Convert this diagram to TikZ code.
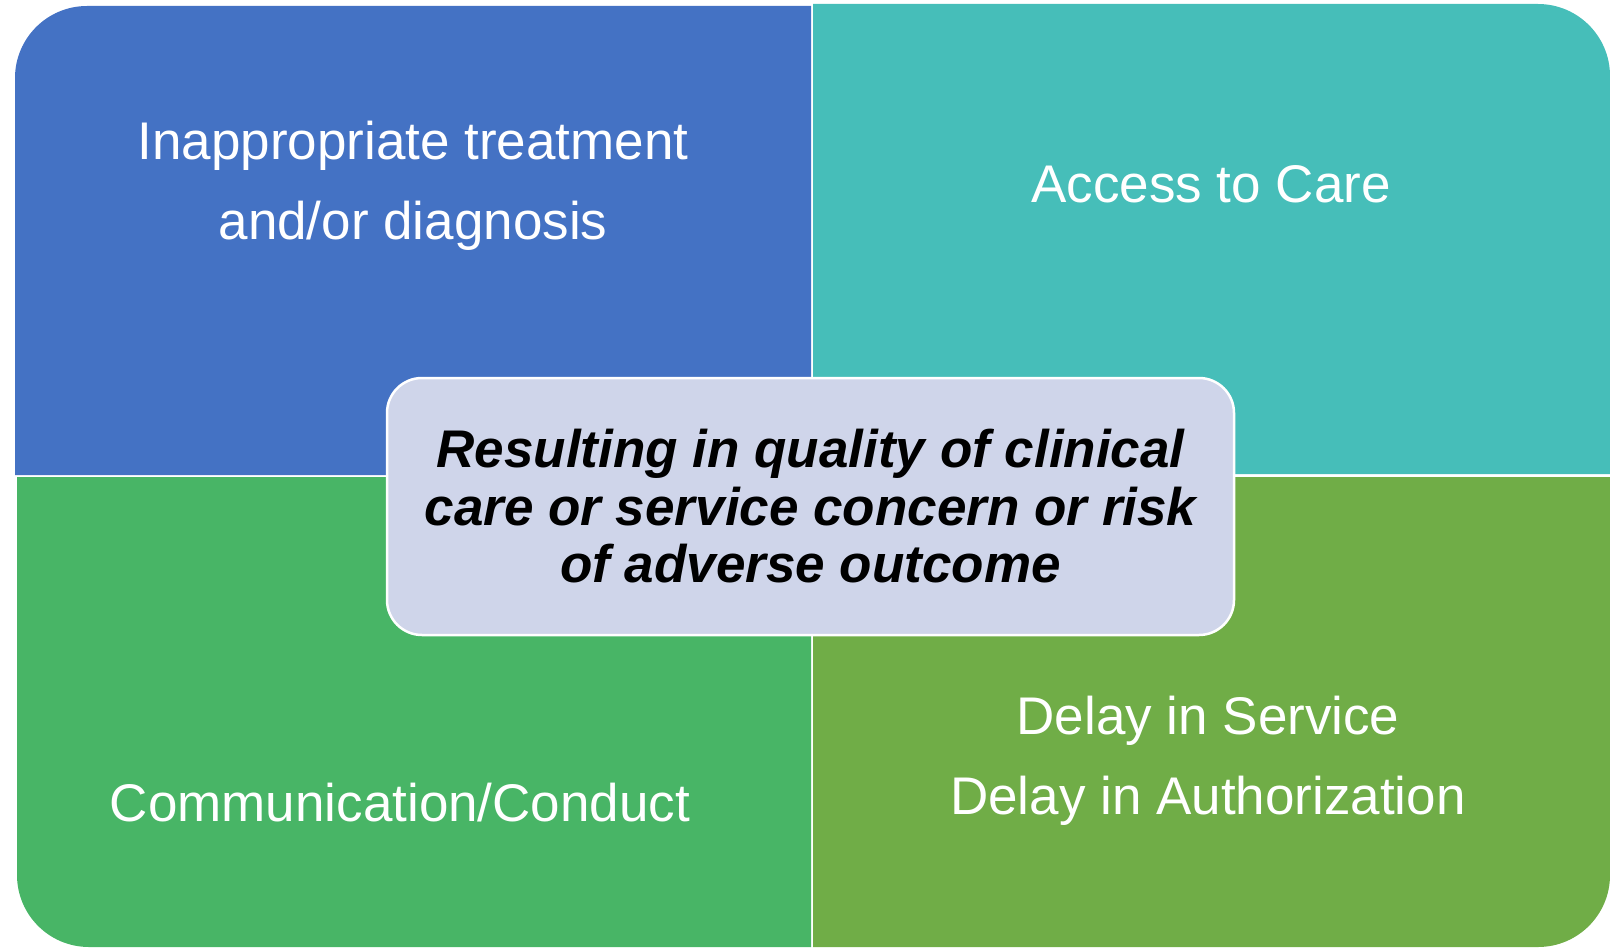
\documentclass[tikz,border=0pt]{standalone}
\usepackage{fontspec}
\setmainfont{Liberation Sans}
\definecolor{quadblue}{HTML}{4472C4}
\definecolor{quadteal}{HTML}{46BEB9}
\definecolor{quadgreen}{HTML}{48B566}
\definecolor{quadolive}{HTML}{70AD47}
\definecolor{hubfill}{HTML}{CFD5EA}
\tikzset{
  every picture/.style={font={\fontsize{26.5}{40}\selectfont}}}

\begin{document}
\begin{tikzpicture}[x=0.5pt, y=-0.5pt,
    quadtext/.style={text=white, align=center, anchor=base, inner sep=0pt},
    hub/.style={draw=white, line width=1.25pt, fill=hubfill,
      rounded corners=17.5pt, minimum width=423.5pt, minimum height=128.5pt,
      align=center, font={\fontsize{26.5}{28.75}\selectfont\bfseries\itshape}}]

    \useasboundingbox (0,0) rectangle (1610,947);

    % the four quarters, each rounded at its outer corner
    \fill[quadblue] (15,475) -- (15,78)
      arc[start angle=180, end angle=90, radius=36pt] -- (811,6) -- (811,475) -- cycle;
    \fill[quadteal] (813,4) -- (1538,4)
      arc[start angle=90, end angle=0, radius=36pt] -- (1610,474) -- (813,474) -- cycle;
    \fill[quadgreen] (811,947) -- (89,947)
      arc[start angle=270, end angle=180, radius=36pt] -- (17,477) -- (811,477) -- cycle;
    \fill[quadolive] (1610,477) -- (1610,875)
      arc[start angle=0, end angle=-90, radius=36pt] -- (813,947) -- (813,477) -- cycle;

    % base of a two-line node is the base of its last line
    \node[quadtext] (treatment) at (413,239) {Inappropriate treatment\\and/or diagnosis};
    \node[quadtext] (access) at (1211,202) {Access to Care};
    \node[quadtext] (conduct) at (400,821) {Communication/Conduct};
    \node[quadtext] (delay) at (1208,814) {Delay in Service\\Delay in Authorization};

    \node[hub] (concern) at (810.5,506.5)
      {Resulting in quality of clinical\\care or service concern or risk\\of adverse outcome};
  \end{tikzpicture}
\end{document}
